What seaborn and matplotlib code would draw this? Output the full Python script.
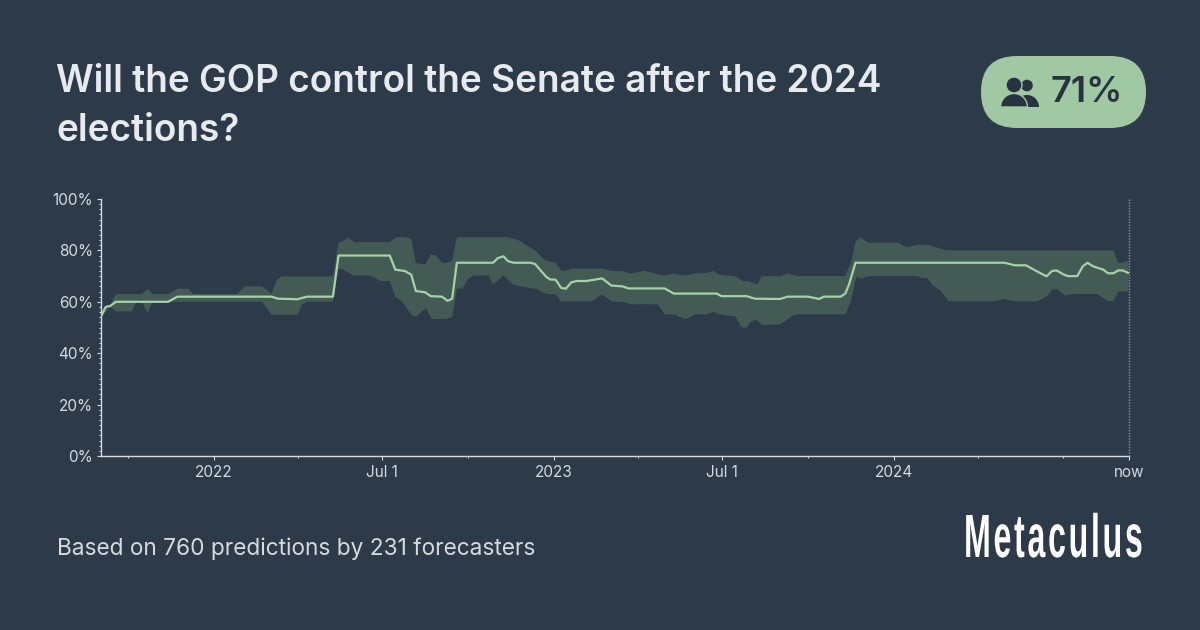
import matplotlib
matplotlib.use("Agg")
import matplotlib.pyplot as plt
import seaborn as sns
import pandas as pd
import numpy as np
from matplotlib.patches import FancyBboxPatch, Circle, Wedge
from matplotlib.patheffects import AbstractPathEffect
from matplotlib.transforms import Affine2D
from matplotlib.ticker import FixedLocator, FuncFormatter

# ---- data: days since the first forecast, and community percentages ----
start_date = "2021-09-02"
now_date = "2024-09-10"
median_days = [0,5,10,16,72,82,183,190,211,221,249,255,310,316,326,333,338,348,354,366,372,377,382,421,426,432,437,443,461,466,478,482,488,494,499,505,511,521,538,548,560,566,605,615,661,666,693,702,729,737,759,771,776,794,799,803,810,970,981,993,1003,1015,1021,1026,1033,1038,1048,1054,1059,1065,1076,1081,1087,1092,1097,1103]
median_vals = [54.3,58,58.4,60,60,62,62,61.2,61,62,62,78,78,72.5,72,70.6,64.2,63.7,62.2,62,60.4,61.2,75.2,75.2,77,77.7,75.8,75.2,75.2,74.7,69.7,68.7,68.6,65.4,65.1,67.6,68.1,68.1,69.1,66.3,66,65.2,65.2,63.2,63.2,62.2,62.2,61.2,61.1,62,62,61.1,62,62,63.2,66.7,75.2,75.2,74.2,74.2,72.2,69.9,72,72.2,70.7,70,70,73.8,75.2,73.8,72.5,71.1,71.1,72.2,72.2,71.2]
upper_days = [0,10,16,44,50,55,72,82,94,99,146,155,173,183,189,194,249,255,260,265,272,310,317,326,333,338,348,354,360,366,372,377,382,437,448,466,477,488,494,499,505,539,548,560,568,584,604,615,627,638,650,657,664,681,689,695,702,705,709,729,737,748,799,805,810,815,821,825,856,865,876,887,908,1081,1087,1092,1097,1103]
upper_vals = [55,58.9,63,63,65,63,63,65.1,65.1,63,63,66,66,63,68.6,69.9,69.9,83.2,83.6,85,83.2,83.2,85.1,85.2,84.5,75.1,74.5,78.4,78,75.2,75.2,76.1,85.1,85.1,84,80,76.1,75.1,72.1,72.1,72.9,72.9,72,71.9,71,72,70.2,71,70.2,71,71.2,72,70.6,69.9,68.1,68.1,67,67,69.9,70,71,70,70,75.1,83.3,85.1,83.6,83,83,81.2,82.2,82.2,80,80,80,75.2,75.2,76.1]
lower_days = [0,10,16,33,38,44,50,55,173,183,211,216,221,249,255,260,271,289,300,310,316,323,333,338,349,355,371,377,382,388,394,400,416,421,432,443,448,461,467,477,488,494,527,538,548,561,568,598,605,616,627,638,650,657,664,681,688,693,698,703,710,729,743,748,799,805,811,816,824,876,881,887,893,901,910,960,970,981,1005,1015,1021,1026,1035,1044,1070,1081,1087,1092,1103]
lower_vals = [54,58,56.3,56.3,60,60,55.6,60,60,55,55,59.1,60,60,72.9,72.5,70.2,70.2,68.1,68.1,61.9,60.2,55,54.2,57.6,53.3,53.3,54.1,65.1,65.1,68.9,70.2,70.2,66.7,70.2,66.7,66.3,65.2,65.1,63.2,62.9,60.2,60.2,62.9,60.2,59.9,59.1,59,55.1,55,53.2,55.1,55.1,56,55.1,54.3,50,50,52.4,53,51,51.2,54.7,55.1,55.1,60.2,69.9,69.1,70,70,69.3,69.2,66.4,64.4,60.2,60.2,61.1,60.2,60.2,62,64.7,65.1,62.4,63,63,60.2,60.4,64,64]
major_tick_dates = ["2022-01-01","2022-07-01","2023-01-01","2023-07-01","2024-01-01"]
major_tick_labels = ["2022","Jul 1","2023","Jul 1","2024"]
minor_tick_dates = ["2021-10-01","2022-04-01","2022-10-01","2023-04-01","2023-10-01","2024-04-01","2024-07-01"]
title_text = "Will the GOP control the Senate after the 2024\nelections?"
footer_text = "Based on 760 predictions by 231 forecasters"
current_text = "71%"
brand_text = "Metaculus"

BG = "#2c3a4a"
BAND = "#445b55"
LINE = "#a6d2a6"
PILL = "#a0c8a3"
DARK = "#283340"
TEXT = "#e7eaee"
MUTED = "#d6d9dd"

sns.set_style("ticks")
plt.rcParams["font.family"] = ["Inter", "DejaVu Sans"]
plt.rcParams["axes.unicode_minus"] = False

W, H = 1200, 630
fig = plt.figure(figsize=(W / 100, H / 100), dpi=100, facecolor=BG)
ax = fig.add_axes([101 / W, 1 - 456 / H, (1129 - 101) / W, (456 - 199) / H], facecolor=BG)

t0 = pd.Timestamp(start_date)
to_day = lambda d: (pd.Timestamp(d) - t0).days
now_day = to_day(now_date) - 0.4

ax.fill(np.r_[upper_days, lower_days[::-1]], np.r_[upper_vals, lower_vals[::-1]],
        color=BAND, lw=0, zorder=1)
df = pd.DataFrame({"day": median_days, "value": median_vals})
sns.lineplot(data=df, x="day", y="value", ax=ax, color=LINE, lw=1.6,
             estimator=None, sort=False, zorder=3)

ax.set_xlim(0, now_day)
ax.set_ylim(0, 100)
ax.set_xlabel("")
ax.set_ylabel("")
ax.xaxis.set_major_locator(FixedLocator([to_day(d) for d in major_tick_dates] + [now_day]))
ax.set_xticklabels(major_tick_labels + ["now"])
ax.xaxis.set_minor_locator(FixedLocator([to_day(d) for d in minor_tick_dates]))
ax.yaxis.set_major_locator(FixedLocator(list(range(0, 101, 20))))
ax.yaxis.set_minor_locator(FixedLocator(list(range(0, 101, 2))))
ax.yaxis.set_major_formatter(FuncFormatter(lambda v, _: f"{v:.0f}%"))
for s in ("top", "right"):
    ax.spines[s].set_visible(False)
for s in ("left", "bottom"):
    ax.spines[s].set_color(MUTED)
    ax.spines[s].set_linewidth(1)
ax.tick_params(axis="both", which="major", colors=MUTED, length=3.2, width=0.8, labelsize=11, pad=2.5)
ax.tick_params(axis="x", which="major", pad=3)
ax.tick_params(axis="both", which="minor", colors=MUTED, length=1.6, width=0.7)
ax.axvline(now_day, color="#8d959e", lw=1, ls=(0, (1, 1)), zorder=4, clip_on=False)

# overlay in pixel coordinates for the header, pill and footer
ov = fig.add_axes([0, 0, 1, 1], facecolor="none")
ov.set_xlim(0, W)
ov.set_ylim(H, 0)
ov.axis("off")

ov.text(56, 82, title_text.split("\n")[0], fontsize=26.6, fontweight="semibold", color=TEXT, va="center", ha="left")
ov.text(56, 131, title_text.split("\n")[1], fontsize=26.6, fontweight="semibold", color=TEXT, va="center", ha="left")
ov.text(57, 549, footer_text, fontsize=16.3, color=MUTED, va="center", ha="left")

ov.add_patch(FancyBboxPatch((981 + 36, 56 + 36), 165 - 72, 0, boxstyle="round,pad=36,rounding_size=36",
                            fc=PILL, ec="none", zorder=2))
# people icon
ov.add_patch(Circle((1027, 85.5), 5.8, fc=DARK, ec="none", zorder=3))
ov.add_patch(Wedge((1027, 107), 12, 180, 360, fc=DARK, ec="none", zorder=3))
ov.add_patch(Circle((1014, 85), 8, fc=DARK, ec=PILL, lw=1, zorder=4))
ov.add_patch(Wedge((1014, 107), 13.5, 180, 360, fc=DARK, ec=PILL, lw=1, zorder=4))
ov.set_aspect("equal")
ov.set_position([0, 0, 1, 1])
ov.text(1051, 93, current_text, fontsize=26, fontweight="semibold", color=DARK, va="center", ha="left", zorder=5)


class Stretch(AbstractPathEffect):
    """Reshapes the glyph outlines to the tall wordmark while the text stays real text."""
    def __init__(self, sx, sy):
        super().__init__()
        self.sx = sx
        self.sy = sy

    def draw_path(self, renderer, gc, tpath, affine, rgbFace=None):
        renderer.draw_path(gc, tpath, Affine2D().scale(self.sx, self.sy) + affine, rgbFace)


brand = ov.text(964, 557, "\u200a".join(brand_text), fontsize=24, fontweight="bold",
                family=["Liberation Sans Narrow", "Liberation Sans"], color="white", va="baseline", ha="left")
brand.set_path_effects([Stretch(0.965, 44 / 24)])

fig.savefig("out.png", dpi=100, facecolor=BG)
